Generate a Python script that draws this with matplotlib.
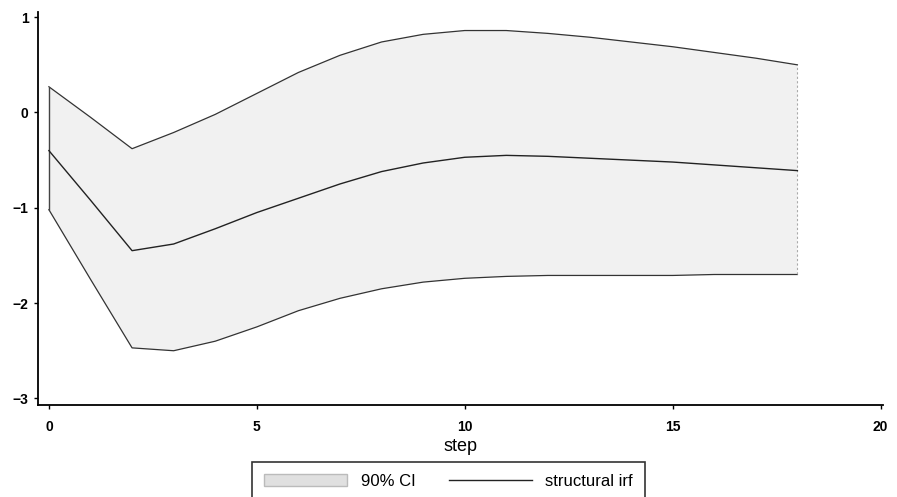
import matplotlib.pyplot as plt

plt.rcParams['font.family'] = ['Liberation Sans', 'DejaVu Sans']

# impulse response
steps = list(range(19))
irf = [-0.40, -0.92, -1.45, -1.38, -1.22, -1.05, -0.90, -0.75, -0.62, -0.53,
       -0.47, -0.45, -0.46, -0.48, -0.50, -0.52, -0.55, -0.58, -0.61]
ci_upper = [0.27, -0.05, -0.38, -0.21, -0.02, 0.20, 0.42, 0.60, 0.74, 0.82,
            0.86, 0.86, 0.83, 0.79, 0.74, 0.69, 0.63, 0.57, 0.50]
ci_lower = [-1.02, -1.75, -2.47, -2.50, -2.40, -2.25, -2.08, -1.95, -1.85, -1.78,
            -1.74, -1.72, -1.71, -1.71, -1.71, -1.71, -1.70, -1.70, -1.70]

xticks = [0, 5, 10, 15, 20]
yticks = [-3, -2, -1, 0, 1]

fig = plt.figure(figsize=(8.97, 4.97), dpi=100)
ax = fig.add_axes([0.042, 0.185, 0.942, 0.79])

ci = ax.fill_between(steps, ci_lower, ci_upper, facecolor='#f1f1f1',
                     edgecolor='none', label='90% CI')
# band outline: dark curves, dark left edge, faint right edge
ax.plot(steps, ci_upper, color='#333333', linewidth=0.9)
ax.plot(steps, ci_lower, color='#333333', linewidth=0.9)
ax.vlines(steps[0], ci_lower[0], ci_upper[0], color='#444444', linewidth=1.0)
ax.vlines(steps[-1], ci_lower[-1], ci_upper[-1], color='#aaaaaa', linewidth=0.8,
          linestyles=(0, (2, 2)))
line, = ax.plot(steps, irf, color='#222222', linewidth=1.0, label='structural irf')

ax.set_xlim(-0.27, 20.05)
ax.set_ylim(-3.07, 1.05)
ax.set_xticks(xticks)
ax.set_yticks(yticks)
ax.tick_params(labelsize=10, length=3, width=1)
ax.tick_params(axis='x', pad=8)
for lab in ax.get_xticklabels() + ax.get_yticklabels():
    lab.set_fontweight('bold')
for side in ['top', 'right']:
    ax.spines[side].set_visible(False)
for side in ['left', 'bottom']:
    ax.spines[side].set_linewidth(1.3)

ax.set_xlabel('step', fontsize=13, labelpad=3)

leg = fig.legend(handles=[ci, line], loc='upper center', bbox_to_anchor=(0.5, 0.07),
                 ncol=2, frameon=True, fancybox=False, fontsize=12,
                 handlelength=5.0, columnspacing=2.0, borderpad=0.7, borderaxespad=0)
leg.get_frame().set_edgecolor('black')
leg.get_frame().set_linewidth(1.2)
leg.legend_handles[0].set_facecolor('#e0e0e0')
leg.legend_handles[0].set_edgecolor('#bbbbbb')

fig.savefig('out.png', dpi=100)
